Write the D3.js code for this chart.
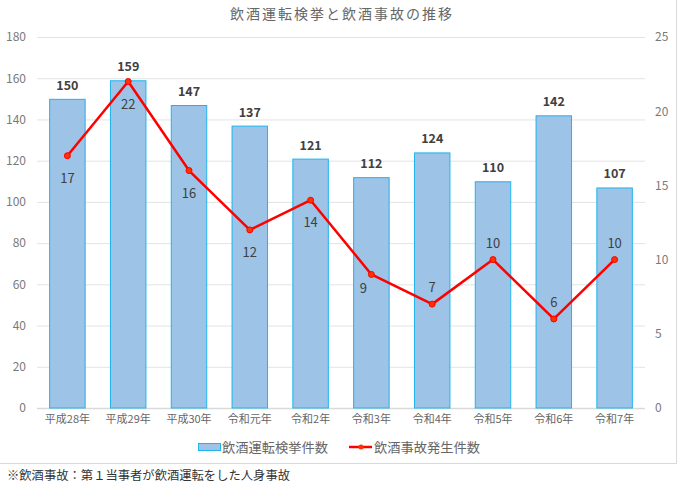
<!DOCTYPE html>
<html><head><meta charset="utf-8">
<script src="https://cdn.jsdelivr.net/npm/d3@7"></script>
<style>
body{margin:0;background:#fff;}
text{font-family:"Noto Sans CJK JP","Noto Sans",sans-serif;}
</style></head>
<body><svg id="c" width="700" height="498"></svg>
<script>
const categories = ["平成28年","平成29年","平成30年","令和元年","令和2年","令和3年","令和4年","令和5年","令和6年","令和7年"];
const arrests = [150,159,147,137,121,112,124,110,142,107];
const accidents = [17,22,16,12,14,9,7,10,6,10];
const leftTicks = [0,20,40,60,80,100,120,140,160,180];
const rightTicks = [0,5,10,15,20,25];
const titleText = "飲酒運転検挙と飲酒事故の推移";
const seriesNames = ["飲酒運転検挙件数","飲酒事故発生件数"];
const footnote = "※飲酒事故：第１当事者が飲酒運転をした人身事故";
// label placement for line values (layout only)
const lineLabelSide = ["below","below","below","below","below","belowLeft","above","above","above","above"];

const svg = d3.select("#c");
const L=37, R=645, T=37, B=408;
const tickColor = "#7a7a7a";

// chart border
svg.append("rect").attr("x",-1).attr("y",-1).attr("width",677.5).attr("height",464.5)
  .attr("fill","none").attr("stroke","#d9d9d9").attr("stroke-width",1);

const x = d3.scaleBand().domain(categories).range([L,R]).paddingInner(0.4).paddingOuter(0.2);
const yL = d3.scaleLinear().domain([0,180]).range([B,T]);
const yR = d3.scaleLinear().domain([0,25]).range([B,T]);

// gridlines
svg.append("g").selectAll("line").data(leftTicks).join("line")
  .attr("x1",L).attr("x2",R).attr("y1",d=>yL(d)+0.5).attr("y2",d=>yL(d)+0.5)
  .attr("stroke",d=>d===0?"#d9d9d9":"#e3e3e3").attr("stroke-width",d=>d===0?1.5:1);

// left axis
const axL = d3.axisLeft(yL).tickValues(leftTicks).tickSize(0).tickPadding(0);
const gL = svg.append("g").attr("transform",`translate(${L-11},0)`).call(axL);
gL.select(".domain").remove();
gL.selectAll("text").attr("fill",tickColor).style("font-size","12px").style("font-family","'Noto Sans CJK JP'");

const axR = d3.axisRight(yR).tickValues(rightTicks).tickSize(0).tickPadding(0);
const gR = svg.append("g").attr("transform",`translate(${R+10},0)`).call(axR);
gR.select(".domain").remove();
gR.selectAll("text").attr("fill",tickColor).style("font-size","12px").style("font-family","'Noto Sans CJK JP'");

const axB = d3.axisBottom(x).tickSize(0).tickPadding(7);
const gB = svg.append("g").attr("transform",`translate(0,${B})`).call(axB);
gB.select(".domain").remove();
gB.selectAll("text").attr("fill","#666").style("font-size","11px").style("font-family","'Noto Sans CJK JP'");

// bars
svg.append("g").selectAll("rect").data(arrests).join("rect")
  .attr("x",(d,i)=>x(categories[i])+0.5).attr("y",d=>yL(d)+0.5)
  .attr("width",x.bandwidth()-1).attr("height",d=>B-yL(d)-0.5)
  .attr("fill","#9dc3e6").attr("stroke","#1eb4ee").attr("stroke-width",1);

// bar labels
svg.append("g").selectAll("text").data(arrests).join("text")
  .attr("x",(d,i)=>x(categories[i])+x.bandwidth()/2).attr("y",d=>yL(d)-9)
  .attr("text-anchor","middle").attr("fill","#404040")
  .style("font-size","12.5px").style("font-weight","bold").text(d=>d);

// line
const cx = i=>x(categories[i])+x.bandwidth()/2;
const line = d3.line().x((d,i)=>cx(i)).y(d=>yR(d));
svg.append("path").datum(accidents).attr("d",line)
  .attr("fill","none").attr("stroke","#ff0000").attr("stroke-width",2.5).attr("stroke-linejoin","round");
svg.append("g").selectAll("circle").data(accidents).join("circle")
  .attr("cx",(d,i)=>cx(i)).attr("cy",d=>yR(d)).attr("r",3)
  .attr("fill","#ff3300").attr("stroke","#ff0000").attr("stroke-width",1);

// line labels
svg.append("g").selectAll("text").data(accidents).join("text")
  .attr("x",(d,i)=>cx(i)+(lineLabelSide[i]==="belowLeft"?-8:0))
  .attr("y",(d,i)=>{const s=lineLabelSide[i]; return yR(d)+(s==="above"?-12:(s==="belowLeft"?19:27));})
  .attr("text-anchor","middle").attr("fill","#404040")
  .style("font-size","13px").text(d=>d);

// title
svg.append("text").attr("x",342).attr("y",19).attr("text-anchor","middle")
  .attr("fill","#666").style("font-size","14px").style("letter-spacing","2px").text(titleText);

// legend
const lg = svg.append("g");
lg.append("rect").attr("x",198.5).attr("y",443.5).attr("width",22).attr("height",7)
  .attr("fill","#9dc3e6").attr("stroke","#1eb4ee");
lg.append("text").attr("x",222).attr("y",452).attr("fill","#666").style("font-size","13px")
  .attr("textLength",106).attr("lengthAdjust","spacingAndGlyphs").text(seriesNames[0]);
lg.append("line").attr("x1",349).attr("x2",372).attr("y1",447).attr("y2",447).attr("stroke","#ff0000").attr("stroke-width",2.5);
lg.append("circle").attr("cx",361).attr("cy",447).attr("r",2.5).attr("fill","#ff3300");
lg.append("text").attr("x",374).attr("y",452).attr("fill","#666").style("font-size","13px")
  .attr("textLength",106).attr("lengthAdjust","spacingAndGlyphs").text(seriesNames[1]);

// footnote
svg.append("text").attr("x",7).attr("y",480).attr("fill","#333").style("font-size","12px")
  .attr("textLength",283).attr("lengthAdjust","spacingAndGlyphs").text(footnote);
</script></body></html>
